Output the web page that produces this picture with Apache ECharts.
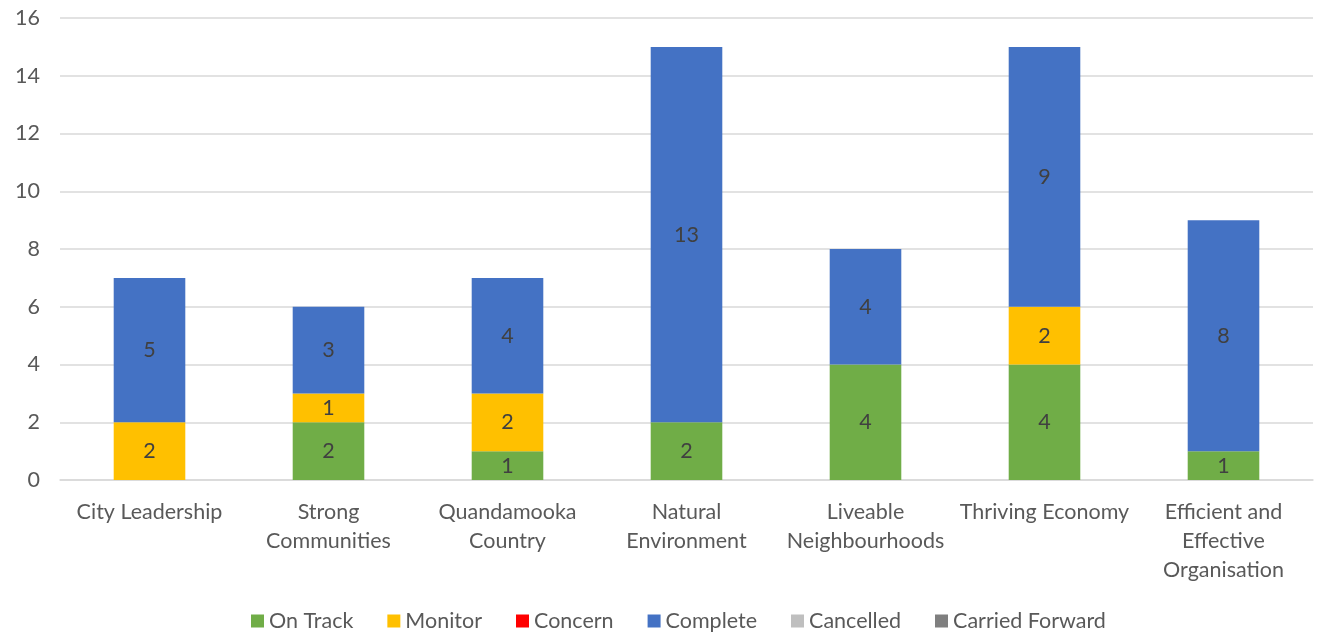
<!DOCTYPE html>
<html>
<head>
<meta charset="utf-8">
<script src="https://cdn.jsdelivr.net/npm/echarts@6/dist/echarts.min.js"></script>
<style>
  html, body { margin: 0; padding: 0; background: #fff; }
  #chart { width: 1318px; height: 640px; }
</style>
</head>
<body>
<div id="chart"></div>
<script>
var categories = ['City Leadership', 'Strong\nCommunities', 'Quandamooka\nCountry', 'Natural\nEnvironment',
  'Liveable\nNeighbourhoods', 'Thriving Economy', 'Efficient and\nEffective\nOrganisation'];
var onTrack = [0, 2, 1, 2, 4, 4, 1];
var monitor = [2, 1, 2, 0, 0, 2, 0];
var concern = [0, 0, 0, 0, 0, 0, 0];
var complete = [5, 3, 4, 13, 4, 9, 8];
var cancelled = [0, 0, 0, 0, 0, 0, 0];
var carriedForward = [0, 0, 0, 0, 0, 0, 0];

var FONT = 'Lato';

function bar(name, data, color) {
  return {
    name: name,
    type: 'bar',
    stack: 'total',
    barWidth: '40%',
    data: data,
    itemStyle: { color: color },
    label: {
      show: true,
      position: 'inside',
      color: '#404040',
      fontFamily: FONT,
      fontSize: 21.5,
      formatter: function (p) { return p.value ? p.value : ''; }
    }
  };
}

var myChart = echarts.init(document.getElementById('chart'));
myChart.setOption({
  backgroundColor: '#fff',
  animation: false,
  grid: { left: 60, right: 5, top: 18, bottom: 160 },
  legend: {
    bottom: 3,
    left: 246,
    itemWidth: 13,
    itemHeight: 13,
    itemGap: 34,
    icon: 'rect',
    textStyle: { color: '#595959', fontFamily: FONT, fontSize: 21.5 },
    data: ['On Track', 'Monitor', 'Concern', 'Complete', 'Cancelled', 'Carried Forward']
  },
  xAxis: {
    type: 'category',
    data: categories,
    axisLine: { lineStyle: { color: '#d9d9d9', width: 1.5 } },
    axisTick: { show: false },
    axisLabel: {
      color: '#595959',
      fontFamily: FONT,
      fontSize: 21.5,
      lineHeight: 29,
      margin: 18,
      interval: 0
    }
  },
  yAxis: {
    type: 'value',
    min: 0,
    max: 16,
    interval: 2,
    axisLine: { show: false },
    axisTick: { show: false },
    splitLine: { lineStyle: { color: '#d9d9d9', width: 1.5 } },
    axisLabel: { color: '#595959', fontFamily: FONT, fontSize: 21.5, margin: 20 }
  },
  series: [
    bar('On Track', onTrack, '#70ad47'),
    bar('Monitor', monitor, '#ffc000'),
    bar('Concern', concern, '#ff0000'),
    bar('Complete', complete, '#4472c4'),
    bar('Cancelled', cancelled, '#bfbfbf'),
    bar('Carried Forward', carriedForward, '#7f7f7f')
  ]
});
</script>
</body>
</html>
